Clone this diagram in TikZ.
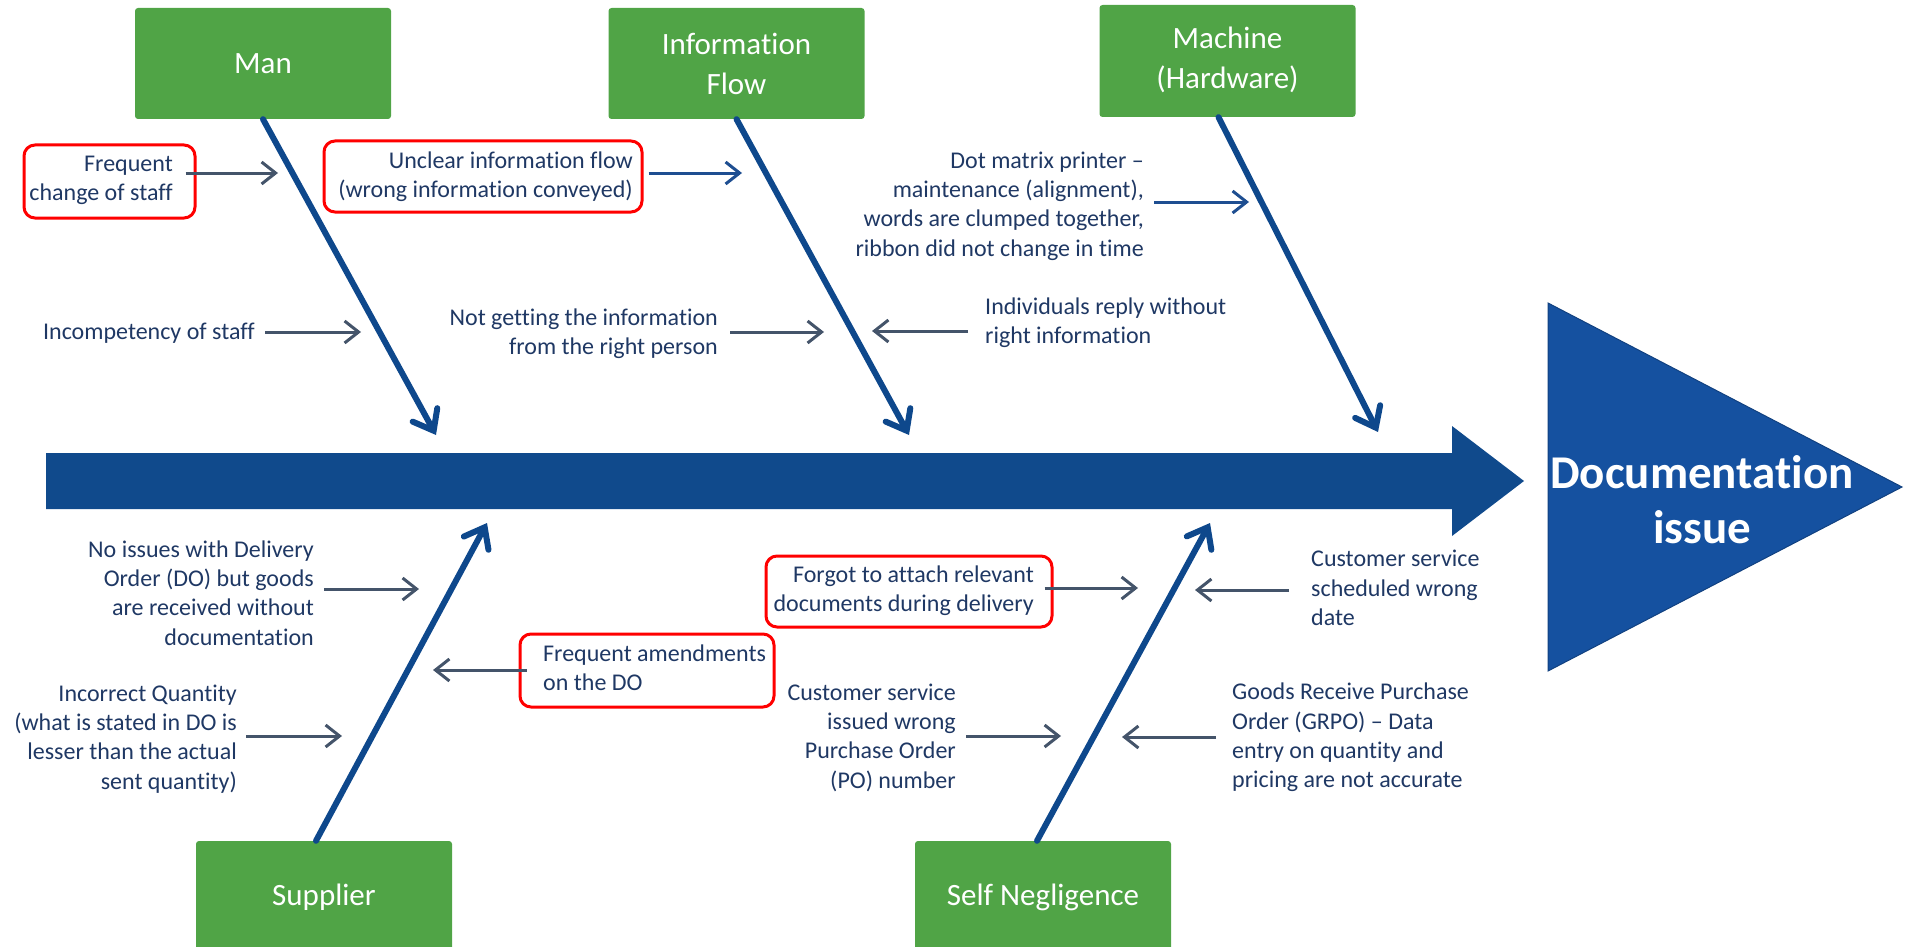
\documentclass[tikz,border=0pt]{standalone}
\usepackage{fontspec}
\setmainfont{Carlito}[Ligatures=NoCommon]
\usetikzlibrary{arrows.meta}
\definecolor{spine}{RGB}{16,74,140}
\definecolor{tri}{RGB}{21,81,160}
\definecolor{bone}{RGB}{14,72,140}
\definecolor{grn}{RGB}{80,164,70}
\definecolor{txt}{RGB}{31,56,100}
\definecolor{sgray}{RGB}{68,84,106}
\definecolor{sblue}{RGB}{30,78,145}
\definecolor{redb}{RGB}{255,0,0}
\tikzset{
  catbox/.style={fill=grn, rounded corners=3pt, minimum width=256pt, text=white, align=center,
    font=\fontsize{31}{40}\selectfont, inner sep=0pt},
  cause/.style={text=txt, font=\fontsize{24}{29.3}\selectfont, inner sep=0pt},
  redbox/.style={draw=redb, line width=3pt, rounded corners=11pt, inner sep=0pt},
  bonearrow/.style={draw=bone, line width=6pt, line cap=round, -{Straight Barb[length=18pt,width=28pt,line cap=round]}},
  smallarrow/.style={draw=sgray, line width=3pt, -{Straight Barb[length=14pt,width=22pt]}},
  bluearrow/.style={draw=sblue, line width=3pt, -{Straight Barb[length=14pt,width=22pt]}},
}
\begin{document}
\begin{tikzpicture}[x=1pt,y=-1pt]
\useasboundingbox (0,0) rectangle (1911,947);
\clip (0,0) rectangle (1911,947);
% spine
\fill[spine] (46,453) -- (1452,453) -- (1452,426) -- (1524,481) -- (1452,536) -- (1452,509) -- (46,509) -- cycle;
% head triangle
\fill[tri, draw=tri!80!black, line width=1pt] (1548,303) -- (1902,487) -- (1548,671) -- cycle;
\node[text=white, font=\fontsize{47}{55}\selectfont\bfseries, align=center, inner sep=0pt] (effect) at (1702,500) {Documentation\\issue};

% category boxes
\node[catbox, minimum height=111pt] (man) at (263,63.5) {Man};
\node[catbox, minimum height=111pt] (info) at (736.5,63.5) {Information\\Flow};
\node[catbox, minimum height=112pt] (mach) at (1227.5,61) {\raisebox{-8pt}{\begin{tabular}{@{}c@{}}Machine\\(Hardware)\end{tabular}}};
\node[catbox, minimum height=112pt] (sup) at (324,897) {Supplier};
\node[catbox, minimum height=112pt] (self) at (1043,897) {Self Negligence};

% bone tips
\coordinate (manTip) at (436,435);
\coordinate (infoTip) at (909,435);
\coordinate (machTip) at (1378,432);
\coordinate (supTip) at (487,523);
\coordinate (selfTip) at (1210,523);

\draw[bonearrow] (man.south) -- (manTip);
\draw[bonearrow] (info.south) -- (infoTip);
\draw[bonearrow] ([xshift=-9pt]mach.south) -- (machTip);
\draw[bonearrow] ([xshift=-8pt]sup.north) -- (supTip);
\draw[bonearrow] ([xshift=-6pt]self.north) -- (selfTip);

% red boxes
\node[redbox, minimum width=171pt, minimum height=73pt] (rb1) at (109.5,181.5) {};
\node[redbox, minimum width=318pt, minimum height=71pt] (rb2) at (483,176.5) {};
\node[redbox, minimum width=254pt, minimum height=73pt] (rb3) at (647,670.5) {};
\node[redbox, minimum width=286pt, minimum height=71pt] (rb4) at (909,591.5) {};

% cause texts
\node[cause, align=right, anchor=east] (c1) at (173,180.5) {Frequent\\change of staff};
\node[cause, align=right, anchor=east] (c2) at (633,177) {Unclear information flow\\(wrong information conveyed)};
\node[cause, anchor=east] (c3) at (255,333) {Incompetency of staff};
\node[cause, align=right, anchor=east] (c4) at (718,334) {Not getting the information\\from the right person};
\node[cause, align=left, anchor=west] (c5) at (985,322.5) {Individuals reply without\\right information};
\node[cause, align=right, anchor=east] (c6) at (1144,206) {Dot matrix printer –\\maintenance (alignment),\\words are clumped together,\\ribbon did not change in time};
\node[cause, align=right, anchor=east] (c7) at (314,593) {No issues with Delivery\\Order (DO) but goods\\are received without\\documentation};
\node[cause, align=right, anchor=east] (c8) at (237,739) {Incorrect Quantity\\(what is stated in DO is\\lesser than the actual\\sent quantity)};
\node[cause, align=left, anchor=west] (c9) at (543,668) {Frequent amendments\\on the DO};
\node[cause, align=right, anchor=east] (c10) at (1034,590.5) {Forgot to attach relevant\\documents during delivery};
\node[cause, align=left, anchor=west] (c11) at (1311,588) {Customer service\\scheduled wrong\\date};
\node[cause, align=right, anchor=east] (c12) at (956,737.5) {Customer service\\issued wrong\\Purchase Order\\(PO) number};
\node[cause, align=left, anchor=west] (c13) at (1232,737.5) {Goods Receive Purchase\\Order (GRPO) – Data\\entry on quantity and\\pricing are not accurate};

% small arrow end points
\coordinate (e1) at (278,173);
\coordinate (e2) at (742,173);
\coordinate (e3) at (361,332);
\coordinate (e4) at (824,332);
\coordinate (e5) at (872,331);
\coordinate (e6) at (1249,202);
\coordinate (e7) at (419,589);
\coordinate (e8) at (342,736);
\coordinate (e9) at (433,670);
\coordinate (e10) at (1138,588);
\coordinate (e11) at (1195,590);
\coordinate (e12) at (1061,736);
\coordinate (e13) at (1122,737);

\draw[smallarrow] ([xshift=-11pt]rb1.east |- e1) -- (e1);
\draw[bluearrow] ([xshift=5pt]rb2.east |- e2) -- (e2);
\draw[smallarrow] ([xshift=10pt]c3.east |- e3) -- (e3);
\draw[smallarrow] ([xshift=12pt]c4.east |- e4) -- (e4);
\draw[smallarrow] ([xshift=-17pt]c5.west |- e5) -- (e5);
\draw[bluearrow] ([xshift=10pt]c6.east |- e6) -- (e6);
\draw[smallarrow] ([xshift=10pt]c7.east |- e7) -- (e7);
\draw[smallarrow] ([xshift=9pt]c8.east |- e8) -- (e8);
\draw[smallarrow] ([xshift=8pt]rb3.west |- e9) -- (e9);
\draw[smallarrow] ([xshift=-9pt]rb4.east |- e10) -- (e10);
\draw[smallarrow] ([xshift=-22pt]c11.west |- e11) -- (e11);
\draw[smallarrow] ([xshift=10pt]c12.east |- e12) -- (e12);
\draw[smallarrow] ([xshift=-16pt]c13.west |- e13) -- (e13);
\end{tikzpicture}
\end{document}
